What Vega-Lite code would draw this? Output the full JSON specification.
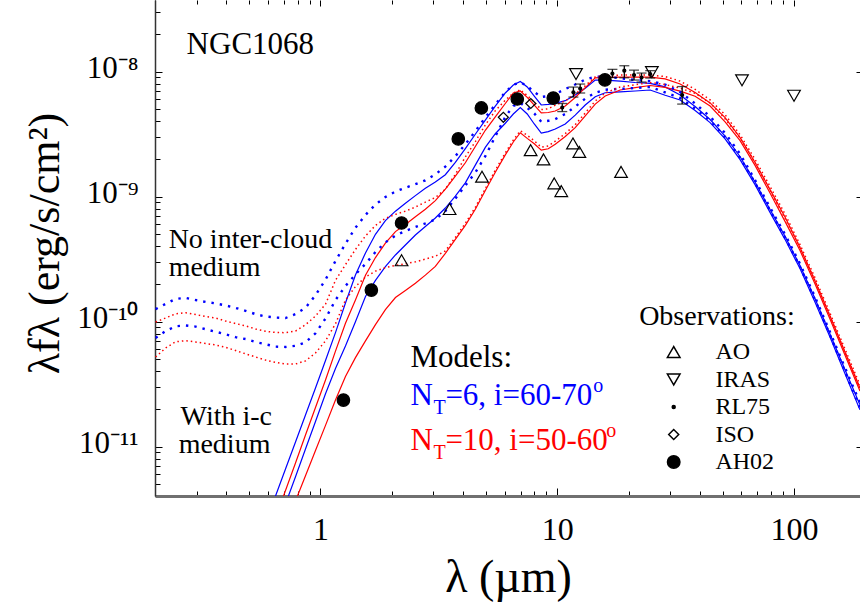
{
  "$schema": "https://vega.github.io/schema/vega-lite/v6.json",
  "width": 705,
  "height": 496,
  "autosize": {"type": "none"},
  "padding": {"left": 155, "top": 0, "right": 0, "bottom": 113},
  "background": "white",
  "config": {
    "view": {"stroke": null},
    "font": "Liberation Serif",
    "axis": {"labelFont": "Liberation Serif", "titleFont": "Liberation Serif", "grid": false},
    "legend": {"orient": "none", "legendX": 506.7, "legendY": 340, "padding": 0, "labelFontSize": 24, "labelFont": "Liberation Serif", "labelColor": "black", "labelOffset": 29.7, "rowPadding": 3.5}
  },
  "datasets": {
    "models": [
      {"lam": 0.2012, "bd1": 1.26e-10, "bd2": 7.41e-11, "rd1": 9.94e-11, "rd2": 5.22e-11},
      {"lam": 0.2218, "bd1": 1.39e-10, "bd2": 8.42e-11, "rd1": 1.071e-10, "rd2": 6.16e-11},
      {"lam": 0.2444, "bd1": 1.52e-10, "bd2": 9.19e-11, "rd1": 1.157e-10, "rd2": 6.91e-11},
      {"lam": 0.2694, "bd1": 1.55e-10, "bd2": 9.34e-11, "rd1": 1.18e-10, "rd2": 7.05e-11},
      {"lam": 0.2969, "bd1": 1.49e-10, "bd2": 9.14e-11, "rd1": 1.142e-10, "rd2": 6.88e-11},
      {"lam": 0.3271, "bd1": 1.44e-10, "bd2": 8.7e-11, "rd1": 1.1e-10, "rd2": 6.69e-11},
      {"lam": 0.3606, "bd1": 1.4e-10, "bd2": 8.31e-11, "rd1": 1.071e-10, "rd2": 6.51e-11},
      {"lam": 0.3974, "bd1": 1.35e-10, "bd2": 7.93e-11, "rd1": 1.011e-10, "rd2": 6.24e-11},
      {"lam": 0.4379, "bd1": 1.29e-10, "bd2": 7.52e-11, "rd1": 9.67e-11, "rd2": 5.88e-11},
      {"lam": 0.4825, "bd1": 1.22e-10, "bd2": 7.27e-11, "rd1": 9.26e-11, "rd2": 5.53e-11},
      {"lam": 0.5318, "bd1": 1.15e-10, "bd2": 6.88e-11, "rd1": 8.74e-11, "rd2": 5.22e-11},
      {"lam": 0.586, "bd1": 1.1e-10, "bd2": 6.6e-11, "rd1": 8.38e-11, "rd2": 4.93e-11, "bs1": 2.45e-12},
      {"lam": 0.6458, "bd1": 1.08e-10, "bd2": 6.32e-11, "rd1": 8.2e-11, "rd2": 4.72e-11, "bs1": 4.03e-12, "bs2": 2.08e-12, "rs1": 2.69e-12},
      {"lam": 0.7116, "bd1": 1.07e-10, "bd2": 6.28e-11, "rd1": 8.17e-11, "rd2": 4.59e-11, "bs1": 6.63e-12, "bs2": 3.48e-12, "rs1": 4.46e-12, "rs2": 2.32e-12},
      {"lam": 0.7843, "bd1": 1.15e-10, "bd2": 6.42e-11, "rd1": 8.42e-11, "rd2": 4.59e-11, "bs1": 1.09e-11, "bs2": 5.75e-12, "rs1": 7.41e-12, "rs2": 3.68e-12},
      {"lam": 0.8643, "bd1": 1.29e-10, "bd2": 6.83e-11, "rd1": 9.45e-11, "rd2": 4.86e-11, "bs1": 1.79e-11, "bs2": 9.59e-12, "rs1": 1.24e-11, "rs2": 5.85e-12},
      {"lam": 0.9526, "bd1": 1.63e-10, "bd2": 8.08e-11, "rd1": 1.11e-10, "rd2": 5.62e-11, "bs1": 2.95e-11, "bs2": 1.59e-11, "rs1": 2.06e-11, "rs2": 9.31e-12},
      {"lam": 1.05, "bd1": 2.17e-10, "bd2": 1.06e-10, "rd1": 1.38e-10, "rd2": 7.02e-11, "bs1": 4.89e-11, "bs2": 2.65e-11, "rs1": 3.42e-11, "rs2": 1.48e-11},
      {"lam": 1.157, "bd1": 3.06e-10, "bd2": 1.49e-10, "rd1": 2.14e-10, "rd2": 9.62e-11, "bs1": 8.18e-11, "bs2": 4.22e-11, "rs1": 5.82e-11, "rs2": 2.36e-11},
      {"lam": 1.275, "bd1": 4.21e-10, "bd2": 1.93e-10, "rd1": 2.86e-10, "rd2": 1.49e-10, "bs1": 1.41e-10, "bs2": 6.4e-11, "rs1": 9.71e-11, "rs2": 3.65e-11},
      {"lam": 1.405, "bd1": 5.64e-10, "bd2": 2.39e-10, "rd1": 3.78e-10, "rd2": 1.91e-10, "bs1": 2.36e-10, "bs2": 9.98e-11, "rs1": 1.49e-10, "rs2": 5.16e-11},
      {"lam": 1.549, "bd1": 7.14e-10, "bd2": 2.9e-10, "rd1": 4.85e-10, "rd2": 2.28e-10, "bs1": 3.55e-10, "bs2": 1.59e-10, "rs1": 2.35e-10, "rs2": 7.03e-11},
      {"lam": 1.707, "bd1": 8.66e-10, "bd2": 3.61e-10, "rd1": 5.89e-10, "rd2": 2.54e-10, "bs1": 5.0e-10, "bs2": 2.14e-10, "rs1": 3.26e-10, "rs2": 9.48e-11},
      {"lam": 1.88, "bd1": 9.94e-10, "bd2": 4.31e-10, "rd1": 6.73e-10, "rd2": 2.71e-10, "bs1": 6.43e-10, "bs2": 2.76e-10, "rs1": 4.25e-10, "rs2": 1.25e-10},
      {"lam": 2.073, "bd1": 1.1e-9, "bd2": 4.89e-10, "rd1": 7.22e-10, "rd2": 2.82e-10, "bs1": 7.66e-10, "bs2": 3.42e-10, "rs1": 5.26e-10, "rs2": 1.56e-10},
      {"lam": 2.284, "bd1": 1.18e-9, "bd2": 5.32e-10, "rd1": 7.66e-10, "rd2": 2.91e-10, "bs1": 8.87e-10, "bs2": 4.11e-10, "rs1": 6.0e-10, "rs2": 1.78e-10},
      {"lam": 2.517, "bd1": 1.26e-9, "bd2": 5.72e-10, "rd1": 8.27e-10, "rd2": 3.01e-10, "bs1": 1.02e-9, "bs2": 4.94e-10, "rs1": 6.91e-10, "rs2": 2.03e-10},
      {"lam": 2.773, "bd1": 1.35e-9, "bd2": 6.11e-10, "rd1": 9.05e-10, "rd2": 3.17e-10, "bs1": 1.17e-9, "bs2": 5.78e-10, "rs1": 7.94e-10, "rs2": 2.36e-10},
      {"lam": 3.056, "bd1": 1.51e-9, "bd2": 6.57e-10, "rd1": 9.85e-10, "rd2": 3.34e-10, "bs1": 1.31e-9, "bs2": 6.76e-10, "rs1": 9.31e-10, "rs2": 2.77e-10},
      {"lam": 3.368, "bd1": 1.74e-9, "bd2": 7.68e-10, "rd1": 1.15e-9, "rd2": 3.68e-10, "bs1": 1.5e-9, "bs2": 8.12e-10, "rs1": 1.15e-9, "rs2": 3.52e-10},
      {"lam": 3.712, "bd1": 2.11e-9, "bd2": 9.67e-10, "rd1": 1.51e-9, "rd2": 4.72e-10, "bs1": 1.88e-9, "bs2": 1.01e-9, "rs1": 1.46e-9, "rs2": 4.55e-10},
      {"lam": 4.091, "bd1": 2.63e-9, "bd2": 1.23e-9, "rd1": 2.08e-9, "rd2": 6.13e-10, "bs1": 2.43e-9, "bs2": 1.29e-9, "rs1": 1.87e-9, "rs2": 5.9e-10},
      {"lam": 4.508, "bd1": 3.34e-9, "bd2": 1.56e-9, "rd1": 2.76e-9, "rd2": 8.23e-10, "bs1": 3.16e-9, "bs2": 1.79e-9, "rs1": 2.52e-9, "rs2": 7.93e-10},
      {"lam": 4.968, "bd1": 4.31e-9, "bd2": 2.11e-9, "rd1": 3.75e-9, "rd2": 1.16e-9, "bs1": 4.1e-9, "bs2": 2.48e-9, "rs1": 3.4e-9, "rs2": 1.12e-9},
      {"lam": 5.475, "bd1": 5.46e-9, "bd2": 3.04e-9, "rd1": 4.88e-9, "rd2": 1.63e-9, "bs1": 5.31e-9, "bs2": 3.19e-9, "rs1": 4.36e-9, "rs2": 1.57e-9},
      {"lam": 6.034, "bd1": 6.88e-9, "bd2": 4.36e-9, "rd1": 5.92e-9, "rd2": 2.24e-9, "bs1": 6.76e-9, "bs2": 3.87e-9, "rs1": 5.57e-9, "rs2": 2.16e-9},
      {"lam": 6.522, "bd1": 7.86e-9, "bd2": 5.32e-9, "rd1": 6.76e-9, "rd2": 2.84e-9, "bs1": 7.83e-9, "bs2": 4.59e-9, "rs1": 6.76e-9, "rs2": 2.74e-9},
      {"lam": 6.982, "bd1": 8.24e-9, "bd2": 5.62e-9, "rd1": 7.17e-9, "rd2": 3.37e-9, "bs1": 8.35e-9, "bs2": 5.17e-9, "rs1": 7.02e-9, "rs2": 3.25e-9},
      {"lam": 7.469, "bd1": 7.68e-9, "bd2": 5.14e-9, "rd1": 6.45e-9, "rd2": 3.1e-9, "bs1": 7.55e-9, "bs2": 4.59e-9, "rs1": 6.24e-9, "rs2": 2.93e-9},
      {"lam": 7.998, "bd1": 6.88e-9, "bd2": 4.64e-9, "rd1": 5.72e-9, "rd2": 2.8e-9, "bs1": 6.39e-9, "bs2": 3.82e-9, "rs1": 5.4e-9, "rs2": 2.65e-9},
      {"lam": 8.56, "bd1": 6.28e-9, "bd2": 3.98e-9, "rd1": 4.98e-9, "rd2": 2.49e-9, "bs1": 5.42e-9, "bs2": 3.23e-9, "rs1": 4.68e-9, "rs2": 2.36e-9},
      {"lam": 9.163, "bd1": 6.39e-9, "bd2": 4.05e-9, "rd1": 5.05e-9, "rd2": 2.55e-9, "bs1": 5.48e-9, "bs2": 3.32e-9, "rs1": 4.72e-9, "rs2": 2.42e-9},
      {"lam": 9.809, "bd1": 6.63e-9, "bd2": 4.18e-9, "rd1": 5.4e-9, "rd2": 2.78e-9, "bs1": 5.58e-9, "bs2": 3.48e-9, "rs1": 4.85e-9, "rs2": 2.63e-9},
      {"lam": 10.81, "bd1": 7.27e-9, "bd2": 4.59e-9, "rd1": 5.84e-9, "rd2": 3.2e-9, "bs1": 5.87e-9, "bs2": 3.82e-9, "rs1": 5.32e-9, "rs2": 3.03e-9},
      {"lam": 11.91, "bd1": 7.91e-9, "bd2": 5.26e-9, "rd1": 6.63e-9, "rd2": 3.77e-9, "bs1": 6.51e-9, "bs2": 4.5e-9, "rs1": 6.22e-9, "rs2": 3.57e-9},
      {"lam": 13.13, "bd1": 8.66e-9, "bd2": 6.09e-9, "rd1": 7.71e-9, "rd2": 4.68e-9, "bs1": 7.37e-9, "bs2": 5.42e-9, "rs1": 7.46e-9, "rs2": 4.43e-9},
      {"lam": 14.47, "bd1": 9.15e-9, "bd2": 6.79e-9, "rd1": 9.1e-9, "rd2": 5.83e-9, "bs1": 8.58e-9, "bs2": 6.3e-9, "rs1": 8.92e-9, "rs2": 5.51e-9},
      {"lam": 15.94, "bd1": 9.14e-9, "bd2": 7.18e-9, "rd1": 9.31e-9, "rd2": 6.76e-9, "bs1": 8.58e-9, "bs2": 6.79e-9, "rs1": 9.02e-9, "rs2": 6.39e-9},
      {"lam": 18.44, "bd1": 8.86e-9, "bd2": 7.3e-9, "rd1": 9.41e-9, "rd2": 7.55e-9, "bs1": 8.4e-9, "bs2": 6.91e-9, "rs1": 9.07e-9, "rs2": 7.14e-9},
      {"lam": 21.34, "bd1": 8.61e-9, "bd2": 7.41e-9, "rd1": 9.41e-9, "rd2": 7.87e-9, "bs1": 8.2e-9, "bs2": 7.01e-9, "rs1": 9.07e-9, "rs2": 7.45e-9},
      {"lam": 24.68, "bd1": 8.41e-9, "bd2": 7.55e-9, "rd1": 9.41e-9, "rd2": 8.2e-9, "bs1": 8.08e-9, "bs2": 7.14e-9, "rs1": 9.07e-9, "rs2": 7.76e-9},
      {"lam": 28.56, "bd1": 7.9e-9, "bd2": 6.84e-9, "rd1": 9.15e-9, "rd2": 7.91e-9, "bs1": 7.57e-9, "bs2": 6.48e-9, "rs1": 8.77e-9, "rs2": 7.49e-9},
      {"lam": 33.04, "bd1": 6.88e-9, "bd2": 6.16e-9, "rd1": 8.42e-9, "rd2": 7.39e-9, "bs1": 6.51e-9, "bs2": 5.94e-9, "rs1": 7.97e-9, "rs2": 7.0e-9},
      {"lam": 38.22, "bd1": 5.57e-9, "bd2": 5.07e-9, "rd1": 7.22e-9, "rd2": 6.72e-9, "bs1": 5.27e-9, "bs2": 4.89e-9, "rs1": 6.83e-9, "rs2": 6.36e-9},
      {"lam": 44.22, "bd1": 4.38e-9, "bd2": 4.06e-9, "rd1": 5.95e-9, "rd2": 5.62e-9, "bs1": 4.15e-9, "bs2": 3.92e-9, "rs1": 5.63e-9, "rs2": 5.32e-9},
      {"lam": 51.16, "bd1": 3.23e-9, "bd2": 3.0e-9, "rd1": 4.53e-9, "rd2": 4.2e-9, "bs1": 3.06e-9, "bs2": 2.9e-9, "rs1": 4.29e-9, "rs2": 3.97e-9},
      {"lam": 59.19, "bd1": 2.2e-9, "bd2": 2.05e-9, "rd1": 3.13e-9, "rd2": 2.97e-9, "bs1": 2.09e-9, "bs2": 1.98e-9, "rs1": 2.97e-9, "rs2": 2.81e-9},
      {"lam": 68.45, "bd1": 1.36e-9, "bd2": 1.29e-9, "rd1": 1.99e-9, "rd2": 1.88e-9, "bs1": 1.31e-9, "bs2": 1.25e-9, "rs1": 1.88e-9, "rs2": 1.78e-9},
      {"lam": 79.2, "bd1": 8.21e-10, "bd2": 7.77e-10, "rd1": 1.21e-9, "rd2": 1.13e-9, "bs1": 7.91e-10, "bs2": 7.49e-10, "rs1": 1.14e-9, "rs2": 1.07e-9},
      {"lam": 91.62, "bd1": 5.0e-10, "bd2": 4.73e-10, "rd1": 7.27e-10, "rd2": 6.71e-10, "bs1": 4.82e-10, "bs2": 4.56e-10, "rs1": 6.88e-10, "rs2": 6.35e-10},
      {"lam": 106.0, "bd1": 2.91e-10, "bd2": 2.75e-10, "rd1": 4.14e-10, "rd2": 3.92e-10, "bs1": 2.81e-10, "bs2": 2.66e-10, "rs1": 3.92e-10, "rs2": 3.71e-10},
      {"lam": 122.6, "bd1": 1.58e-10, "bd2": 1.5e-10, "rd1": 2.25e-10, "rd2": 2.13e-10, "bs1": 1.53e-10, "bs2": 1.44e-10, "rs1": 2.13e-10, "rs2": 2.01e-10},
      {"lam": 141.9, "bd1": 8.27e-11, "bd2": 7.83e-11, "rd1": 1.17e-10, "rd2": 1.11e-10, "bs1": 7.97e-11, "bs2": 7.55e-11, "rs1": 1.11e-10, "rs2": 1.05e-10},
      {"lam": 164.1, "bd1": 4.3e-11, "bd2": 4.0e-11, "rd1": 6.05e-11, "rd2": 5.72e-11, "bs1": 4.15e-11, "bs2": 3.85e-11, "rs1": 5.72e-11, "rs2": 5.42e-11},
      {"lam": 189.9, "bd1": 2.24e-11, "bd2": 2.04e-11, "rd1": 3.12e-11, "rd2": 2.95e-11, "bs1": 2.16e-11, "bs2": 1.97e-11, "rs1": 2.95e-11, "rs2": 2.79e-11}
    ],
    "obs": [
      {"src": "AO", "lam": 2.2, "flux": 3.1e-10},
      {"src": "AO", "lam": 3.51, "flux": 7.97e-10},
      {"src": "AO", "lam": 4.81, "flux": 1.445e-9},
      {"src": "AO", "lam": 7.72, "flux": 2.36e-9},
      {"src": "AO", "lam": 8.75, "flux": 1.99e-9},
      {"src": "AO", "lam": 9.71, "flux": 1.28e-9},
      {"src": "AO", "lam": 10.4, "flux": 1.11e-9},
      {"src": "AO", "lam": 11.65, "flux": 2.67e-9},
      {"src": "AO", "lam": 12.4, "flux": 2.28e-9},
      {"src": "AO", "lam": 18.6, "flux": 1.58e-9},
      {"src": "IRAS", "lam": 12.0, "flux": 9.58e-9},
      {"src": "IRAS", "lam": 25.1, "flux": 9.94e-9},
      {"src": "IRAS", "lam": 60.3, "flux": 8.54e-9},
      {"src": "IRAS", "lam": 100.0, "flux": 6.43e-9},
      {"src": "RL75", "lam": 10.5, "flux": 5.17e-9, "lo": 4.8e-9, "hi": 5.57e-9},
      {"src": "RL75", "lam": 11.7, "flux": 6.84e-9, "lo": 6.27e-9, "hi": 7.54e-9},
      {"src": "RL75", "lam": 12.5, "flux": 7.34e-9, "lo": 6.76e-9, "hi": 7.97e-9},
      {"src": "RL75", "lam": 17.1, "flux": 9.67e-9, "lo": 8.99e-9, "hi": 1.045e-8},
      {"src": "RL75", "lam": 19.2, "flux": 1.02e-8, "lo": 8.95e-9, "hi": 1.117e-8},
      {"src": "RL75", "lam": 21.1, "flux": 9.41e-9, "lo": 8.58e-9, "hi": 1.03e-8},
      {"src": "RL75", "lam": 22.7, "flux": 8.99e-9, "lo": 8.27e-9, "hi": 9.76e-9},
      {"src": "RL75", "lam": 24.7, "flux": 9.58e-9, "lo": 8.9e-9, "hi": 1.02e-8},
      {"src": "RL75", "lam": 33.7, "flux": 6.51e-9, "lo": 5.51e-9, "hi": 7.61e-9},
      {"src": "ISO", "lam": 5.92, "flux": 4.32e-9},
      {"src": "ISO", "lam": 7.73, "flux": 5.57e-9},
      {"src": "AH02", "lam": 1.25, "flux": 2.36e-11},
      {"src": "AH02", "lam": 1.64, "flux": 1.79e-10},
      {"src": "AH02", "lam": 2.2, "flux": 6.16e-10},
      {"src": "AH02", "lam": 3.82, "flux": 2.9e-9},
      {"src": "AH02", "lam": 4.78, "flux": 5.13e-9},
      {"src": "AH02", "lam": 6.78, "flux": 6.05e-9},
      {"src": "AH02", "lam": 9.62, "flux": 6.16e-9},
      {"src": "AH02", "lam": 15.9, "flux": 8.6e-9}
    ],
    "notes": [
      {"role": "name", "text": "NGC1068", "lam": 0.272, "flux": 1.378e-8},
      {"role": "note", "text": "No inter-cloud", "lam": 0.2284, "flux": 3.89e-10},
      {"role": "note", "text": "medium", "lam": 0.2284, "flux": 2.32e-10},
      {"role": "note", "text": "With i-c", "lam": 0.2566, "flux": 1.49e-11},
      {"role": "note", "text": "medium", "lam": 0.2517, "flux": 8.9e-12},
      {"role": "heading", "text": "Models:", "lam": 2.397, "flux": 4.34e-11},
      {"role": "note", "text": "Observations:", "lam": 22.18, "flux": 9.41e-11},
      {"role": "m6", "text": "N", "lam": 2.397, "flux": 2.156e-11},
      {"role": "m6small", "text": "T", "lam": 2.998, "flux": 1.827e-11},
      {"role": "m6", "text": "=6, i=60-70", "lam": 3.369, "flux": 2.156e-11},
      {"role": "m6small", "text": "o", "lam": 14.19, "flux": 2.74e-11},
      {"role": "m10", "text": "N", "lam": 2.397, "flux": 9.41e-12},
      {"role": "m10small", "text": "T", "lam": 2.998, "flux": 7.97e-12},
      {"role": "m10", "text": "=10, i=50-60", "lam": 3.369, "flux": 9.41e-12},
      {"role": "m10small", "text": "o", "lam": 16.1, "flux": 1.196e-11}
    ]
  },
  "layer": [
    {
      "layer": [
        {
          "data": {"name": "models"},
          "transform": [{"fold": ["bs1", "bs2"], "as": ["curve", "flux"]}],
          "mark": {"type": "line", "color": "#0000ff", "strokeWidth": 1.2, "clip": true},
          "encoding": {
            "x": {
              "field": "lam", "type": "quantitative",
              "scale": {"type": "log", "domain": [0.2, 190], "nice": false},
              "axis": {
                "orient": "bottom",
                "values": [0.2, 0.3, 0.4, 0.5, 0.6, 0.7, 0.8, 0.9, 1, 2, 3, 4, 5, 6, 7, 8, 9, 10, 20, 30, 40, 50, 60, 70, 80, 90, 100],
                "labelExpr": "datum.value == 1 ? '1' : datum.value == 10 ? '10' : datum.value == 100 ? '100' : ''",
                "labelOverlap": false, "labelFlush": false, "labelBound": false,
                "labelFontSize": 32, "labelColor": "black", "labelPadding": 26,
                "tickSize": {"condition": {"test": "datum.value == 1 || datum.value == 10 || datum.value == 100", "value": -8}, "value": -5},
                "tickColor": "black", "tickWidth": 1,
                "domainColor": "#707070", "domainWidth": 3,
                "title": "λ (µm)", "titleFontSize": 46, "titleFontWeight": "normal", "titleColor": "black",
                "titleX": 353, "titleY": 81, "titleBaseline": "middle", "titleAlign": "center"
              }
            },
            "y": {
              "field": "flux", "type": "quantitative",
              "title": "λfλ (erg/s/cm²)",
              "scale": {"type": "log", "domain": [4.03e-12, 3.75e-8], "nice": false},
              "axis": {
                "orient": "left",
                "values": [5e-12, 6e-12, 7e-12, 8e-12, 9e-12, 1e-11, 2e-11, 3e-11, 4e-11, 5e-11, 6e-11, 7e-11, 8e-11, 9e-11, 1e-10, 2e-10, 3e-10, 4e-10, 5e-10, 6e-10, 7e-10, 8e-10, 9e-10, 1e-9, 2e-9, 3e-9, 4e-9, 5e-9, 6e-9, 7e-9, 8e-9, 9e-9, 1e-8, 2e-8, 3e-8],
                "labelExpr": "datum.value == 1e-8 ? '10⁻⁸' : datum.value == 1e-9 ? '10⁻⁹' : datum.value == 1e-10 ? '10⁻¹⁰' : datum.value == 1e-11 ? '10⁻¹¹' : ''",
                "labelOverlap": false, "labelFlush": false, "labelBound": false,
                "labelFontSize": 31, "labelColor": "black", "labelPadding": 24, "labelOffset": -3, "labelBaseline": "middle",
                "tickSize": {"condition": {"test": "datum.value == 1e-8 || datum.value == 1e-9 || datum.value == 1e-10 || datum.value == 1e-11", "value": -7}, "value": -5},
                "tickColor": "black", "tickWidth": 1,
                "domainColor": "#333333", "domainWidth": 1.5,
                "title": "λfλ (erg/s/cm²)", "titleFontSize": 44, "titleFontWeight": "normal", "titleColor": "black",
                "titleAngle": -90, "titleX": -110, "titleY": 243, "titleBaseline": "middle", "titleAlign": "center"
              }
            },
            "detail": {"field": "curve"}
          }
        },
        {
          "data": {"name": "models"},
          "transform": [{"fold": ["rs1", "rs2"], "as": ["curve", "flux"]}],
          "mark": {"type": "line", "color": "#ff0000", "strokeWidth": 1.2, "clip": true},
          "encoding": {
            "x": {"field": "lam", "type": "quantitative"},
            "y": {"field": "flux", "type": "quantitative", "title": "λfλ (erg/s/cm²)"},
            "detail": {"field": "curve"}
          }
        },
        {
          "data": {"name": "models"},
          "transform": [{"fold": ["bd1", "bd2"], "as": ["curve", "flux"]}],
          "mark": {"type": "line", "color": "#0000ff", "strokeWidth": 2.4, "strokeDash": [2.4, 6], "strokeCap": "butt", "clip": true},
          "encoding": {
            "x": {"field": "lam", "type": "quantitative"},
            "y": {"field": "flux", "type": "quantitative", "title": "λfλ (erg/s/cm²)"},
            "detail": {"field": "curve"}
          }
        },
        {
          "data": {"name": "models"},
          "transform": [{"fold": ["rd1", "rd2"], "as": ["curve", "flux"]}],
          "mark": {"type": "line", "color": "#ff0000", "strokeWidth": 1.5, "strokeDash": [1.5, 3], "strokeCap": "butt", "clip": true},
          "encoding": {
            "x": {"field": "lam", "type": "quantitative"},
            "y": {"field": "flux", "type": "quantitative", "title": "λfλ (erg/s/cm²)"},
            "detail": {"field": "curve"}
          }
        },
        {
          "data": {"name": "obs"},
          "transform": [{"filter": "datum.src == 'RL75'"}],
          "mark": {"type": "errorbar", "ticks": true, "size": 10, "thickness": 1.3, "color": "black"},
          "encoding": {
            "x": {"field": "lam", "type": "quantitative"},
            "y": {"field": "lo", "type": "quantitative", "title": "λfλ (erg/s/cm²)"},
            "y2": {"field": "hi"}
          }
        },
        {
          "data": {"name": "obs"},
          "mark": {"type": "point", "filled": true, "opacity": 1, "strokeWidth": 1.2},
          "encoding": {
            "x": {"field": "lam", "type": "quantitative"},
            "y": {"field": "flux", "type": "quantitative", "title": "λfλ (erg/s/cm²)"},
            "shape": {
              "field": "src", "type": "nominal", "title": null,
              "scale": {"domain": ["AO", "IRAS", "RL75", "ISO", "AH02"], "range": ["triangle-up", "triangle-down", "circle", "diamond", "circle"]}
            },
            "fill": {
              "field": "src", "type": "nominal", "title": null,
              "scale": {"domain": ["AO", "IRAS", "RL75", "ISO", "AH02"], "range": ["transparent", "transparent", "black", "transparent", "black"]}
            },
            "stroke": {
              "field": "src", "type": "nominal", "title": null,
              "scale": {"domain": ["AO", "IRAS", "RL75", "ISO", "AH02"], "range": ["black", "black", "black", "black", "black"]}
            },
            "size": {
              "field": "src", "type": "nominal", "title": null,
              "scale": {"type": "ordinal", "domain": ["AO", "IRAS", "RL75", "ISO", "AH02"], "range": [160, 160, 9, 100, 156]}
            }
          }
        },
        {
          "data": {"name": "notes"},
          "transform": [{"filter": "datum.role == 'name' || datum.role == 'heading'"}],
          "mark": {"type": "text", "align": "left", "baseline": "alphabetic", "fontSize": 31, "color": "black", "font": "Liberation Serif"},
          "encoding": {
            "x": {"field": "lam", "type": "quantitative"},
            "y": {"field": "flux", "type": "quantitative", "title": "λfλ (erg/s/cm²)"},
            "text": {"field": "text"}
          }
        },
        {
          "data": {"name": "notes"},
          "transform": [{"filter": "datum.role == 'note'"}],
          "mark": {"type": "text", "align": "left", "baseline": "alphabetic", "fontSize": 28, "color": "black", "font": "Liberation Serif"},
          "encoding": {
            "x": {"field": "lam", "type": "quantitative"},
            "y": {"field": "flux", "type": "quantitative", "title": "λfλ (erg/s/cm²)"},
            "text": {"field": "text"}
          }
        },
        {
          "data": {"name": "notes"},
          "transform": [{"filter": "datum.role == 'm6'"}],
          "mark": {"type": "text", "align": "left", "baseline": "alphabetic", "fontSize": 31, "color": "#0000ff", "font": "Liberation Serif"},
          "encoding": {
            "x": {"field": "lam", "type": "quantitative"},
            "y": {"field": "flux", "type": "quantitative", "title": "λfλ (erg/s/cm²)"},
            "text": {"field": "text"}
          }
        },
        {
          "data": {"name": "notes"},
          "transform": [{"filter": "datum.role == 'm6small'"}],
          "mark": {"type": "text", "align": "left", "baseline": "alphabetic", "fontSize": 20, "color": "#0000ff", "font": "Liberation Serif"},
          "encoding": {
            "x": {"field": "lam", "type": "quantitative"},
            "y": {"field": "flux", "type": "quantitative", "title": "λfλ (erg/s/cm²)"},
            "text": {"field": "text"}
          }
        },
        {
          "data": {"name": "notes"},
          "transform": [{"filter": "datum.role == 'm10'"}],
          "mark": {"type": "text", "align": "left", "baseline": "alphabetic", "fontSize": 31, "color": "#ff0000", "font": "Liberation Serif"},
          "encoding": {
            "x": {"field": "lam", "type": "quantitative"},
            "y": {"field": "flux", "type": "quantitative", "title": "λfλ (erg/s/cm²)"},
            "text": {"field": "text"}
          }
        },
        {
          "data": {"name": "notes"},
          "transform": [{"filter": "datum.role == 'm10small'"}],
          "mark": {"type": "text", "align": "left", "baseline": "alphabetic", "fontSize": 20, "color": "#ff0000", "font": "Liberation Serif"},
          "encoding": {
            "x": {"field": "lam", "type": "quantitative"},
            "y": {"field": "flux", "type": "quantitative", "title": "λfλ (erg/s/cm²)"},
            "text": {"field": "text"}
          }
        }
      ]
    },
    {
      "data": {"name": "obs"},
      "mark": {"type": "point", "opacity": 0},
      "encoding": {
        "x": {
          "field": "lam", "type": "quantitative",
          "axis": {
            "orient": "top",
            "values": [0.2, 0.3, 0.4, 0.5, 0.6, 0.7, 0.8, 0.9, 1, 2, 3, 4, 5, 6, 7, 8, 9, 10, 20, 30, 40, 50, 60, 70, 80, 90, 100],
            "labels": false, "domain": false, "title": null,
            "tickSize": {"condition": {"test": "datum.value == 1 || datum.value == 10 || datum.value == 100", "value": -6}, "value": -4},
            "tickColor": "black", "tickWidth": 1
          }
        },
        "y": {
          "field": "flux", "type": "quantitative",
          "axis": {
            "orient": "right",
            "values": [1e-11, 1e-10, 1e-9, 1e-8],
            "labels": false, "domain": false, "title": null,
            "tickSize": -4, "tickColor": "black", "tickWidth": 1
          }
        }
      }
    }
  ],
  "resolve": {"axis": {"x": "independent", "y": "independent"}}
}
